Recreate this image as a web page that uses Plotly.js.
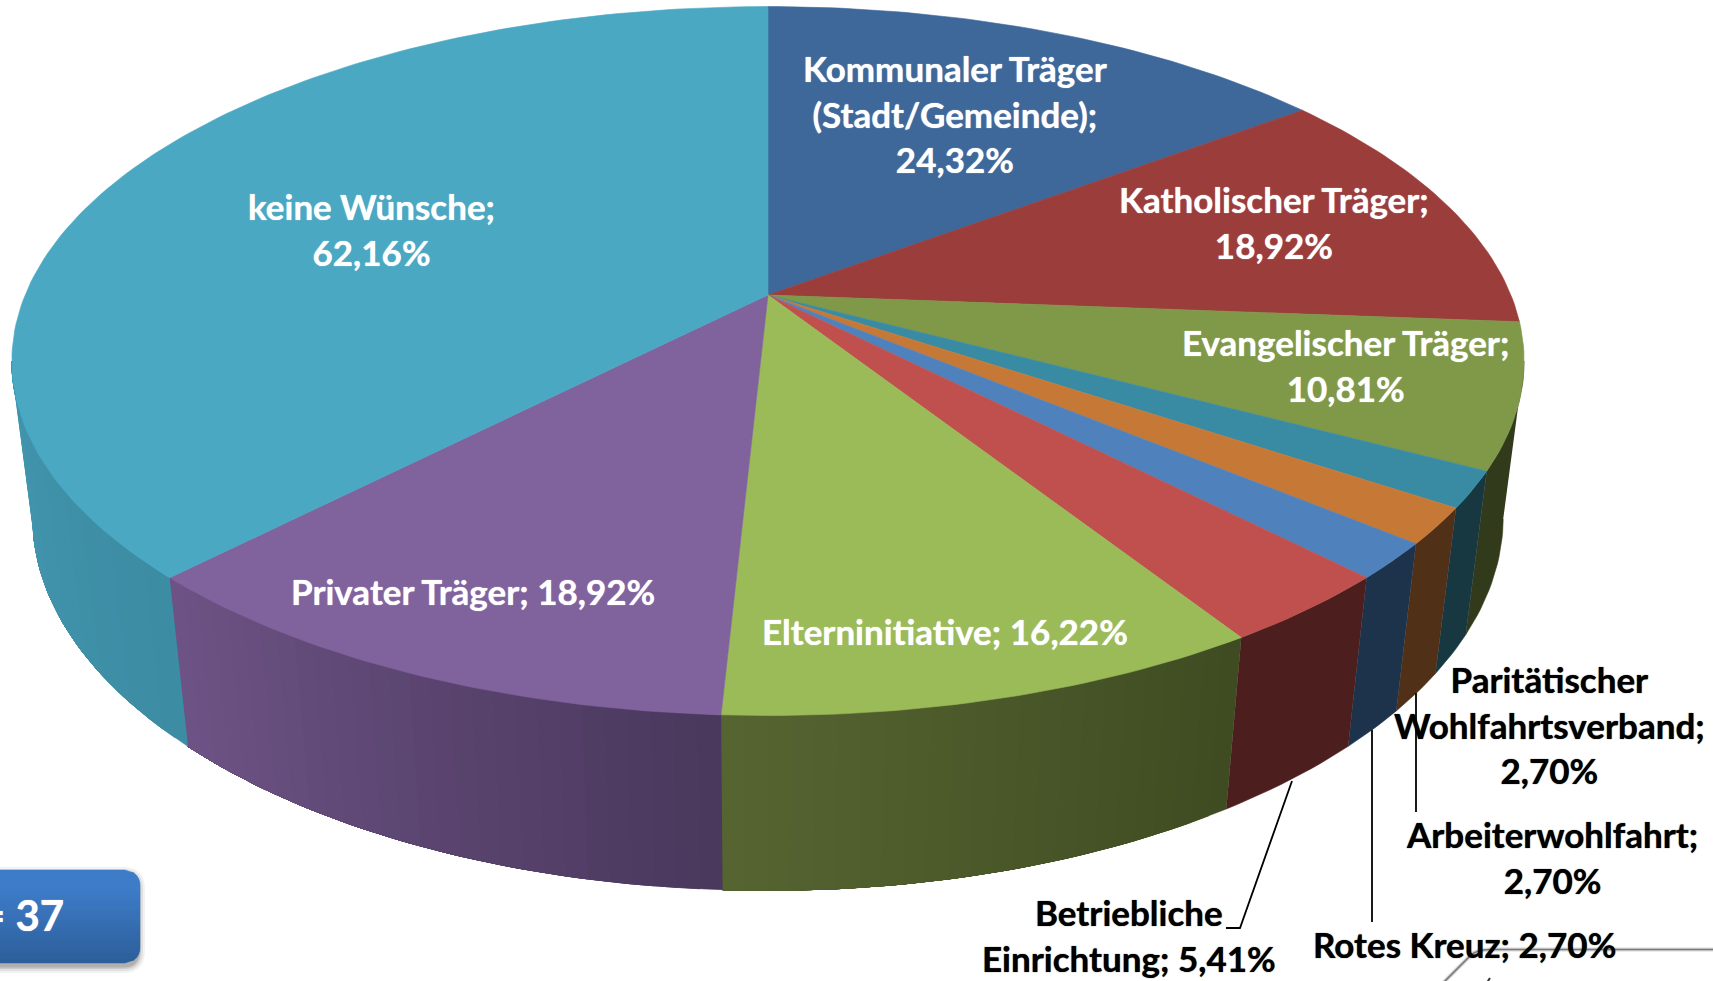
<!DOCTYPE html>
<html><head><meta charset="utf-8">
<script src="https://cdn.plot.ly/plotly-3.0.1.min.js"></script>
<style>html,body{margin:0;padding:0;background:#fff;overflow:hidden}#c{width:1713px;height:981px}</style>
</head><body><div id="c"></div>
<script>
// Data (in clockwise slice order; multiple answers, so shares add up to more than 100 %)
const categories = ["Kommunaler Träger","Katholischer Träger","Evangelischer Träger","Paritätischer Wohlfahrtsverband","Arbeiterwohlfahrt","Rotes Kreuz","Betriebliche Einrichtung","Elterninitiative","Privater Träger","keine Wünsche"];
const values = [24.32,18.92,10.81,2.70,2.70,2.70,5.41,16.22,18.92,62.16];
const topColors = ["#3E689A","#9A3D3B","#7F9948","#388BA3","#C67936","#4F81BD","#C0504D","#9BBB59","#80629D","#4AA8C2"];
const wallFrom = [[40,70,100],[100,40,38],[50,58,28],[24,56,65],[80,48,22],[29,50,75],[76,30,30],[62,75,33],[73,55,92],[60,140,163]];
const wallTo   = [[40,70,100],[100,40,38],[50,58,28],[24,56,65],[80,48,22],[29,50,75],[76,30,30],[86,101,50],[110,84,134],[66,150,174]];
const labelText = ["Kommunaler Träger<br>(Stadt/Gemeinde);<br>24,32%","Katholischer Träger;<br>18,92%","Evangelischer Träger;<br>10,81%","Paritätischer<br>Wohlfahrtsverband;<br>2,70%","Arbeiterwohlfahrt;<br>2,70%","Rotes Kreuz; 2,70%","Betriebliche<br>Einrichtung; 5,41%","Elterninitiative; 16,22%","Privater Träger; 18,92%","keine Wünsche;<br>62,16%"];
const labelX = [955,1274,1345,1549,1552,1464,1129,945,473,371];
const labelY = [113,222,365,724,857,944,935,631,591,229];
const labelColor = ["#fff","#fff","#fff","#000","#000","#000","#000","#fff","#fff","#fff"];

// Perspective projection of the pie disc (screen px)
const S = 1713/1568, CX = 703*S, CY = 270*S, A = 680*S, B = 313.2*S, K = 0.1864, M = 0.0275, C = 145.2*S;
function rim(deg, z){
  const t = deg*Math.PI/180, w = 1 + M*z + K*Math.cos(t);
  return [CX + A*Math.sin(t)/w, CY + (C*z - B*Math.cos(t))/w];
}
const total = values.reduce((a,b)=>a+b,0);
const edges = [0];
values.forEach(v=>edges.push(edges[edges.length-1]+v/total*360));
const visA = Math.acos(-K)*180/Math.PI, visB = 360-visA;
const traces = [];
function poly(pts,color,lw){
  traces.push({type:"scatter",mode:"lines",x:pts.map(p=>p[0]),y:pts.map(p=>p[1]),fill:"toself",fillcolor:color,
    line:{color:color,width:lw},hoverinfo:"skip",showlegend:false});
}
// side walls: each band runs to the slice's far end and is overpainted by the next band
values.forEach((v,i)=>{
  const a=Math.max(edges[i],visA), b=Math.min(edges[i+1],visB);
  if(b<=a) return;
  const flat=wallFrom[i].join()===wallTo[i].join();
  const n=flat?1:Math.ceil((b-a)/1.5);
  for(let j=0;j<n;j++){
    const t0=a+(b-a)*j/n, f=(j+.5)/n;
    const c=wallFrom[i].map((q,m)=>Math.round(q+(wallTo[i][m]-q)*f));
    const m=Math.max(1,Math.ceil(b-t0)), pts=[];
    for(let s=0;s<=m;s++) pts.push(rim(t0+(b-t0)*s/m,0));
    for(let s=m;s>=0;s--) pts.push(rim(t0+(b-t0)*s/m,1));
    poly(pts,`rgb(${c.join(",")})`,0.6);
  }
});
// top faces
values.forEach((v,i)=>{
  const pts=[[CX,CY]];
  const n=Math.ceil(edges[i+1]-edges[i]);
  for(let s=0;s<=n;s++) pts.push(rim(edges[i]+(edges[i+1]-edges[i])*s/n,0));
  pts.push([CX,CY]);
  poly(pts,topColors[i],0.6);
});
// badge
const shapes=[];
const bR=15,bT=870,bB=963,bX=140;
[[7,.05],[5,.07],[3,.1],[1.5,.12]].forEach(([d,o])=>{
  const r=bR+d,x=bX+d-2,t=bT+4-d,b=bB+3+d;
  shapes.push({type:"path",path:`M-5 ${t} L${x-r} ${t} Q${x} ${t} ${x} ${t+r} L${x} ${b-r} Q${x} ${b} ${x-r} ${b} L-5 ${b} Z`,fillcolor:`rgba(0,0,0,${o})`,line:{width:0},layer:"below"});
});
const xr=y=>{const dy=y<bT+bR?bT+bR-y:(y>bB-bR?y-(bB-bR):0);return bX-bR+Math.sqrt(Math.max(0,bR*bR-dy*dy));};
const nb=31;
for(let i=0;i<nb;i++){
  const y0=bT+(bB-bT)*i/nb,y1=bT+(bB-bT)*(i+1)/nb,f=i/(nb-1);
  const g=f<.2?[62,124,200]:[62-17*(f-.2)/.8,124-29*(f-.2)/.8,200-45*(f-.2)/.8];
  const col=`rgb(${g.map(Math.round).join(",")})`;
  shapes.push({type:"path",path:`M-5 ${y0} L${xr(y0)} ${y0} L${xr(y1)} ${y1} L-5 ${y1} Z`,fillcolor:col,line:{color:col,width:.5},layer:"below"});
}
// leader lines
const lead=(p)=>({type:"path",path:"M"+p.map(q=>q.join(" ")).join(" L"),line:{color:"#000",width:1.8},layer:"above"});
shapes.push(lead([[1292,781],[1240,928],[1226,928]]));
shapes.push(lead([[1372,730],[1372,922]]));
shapes.push(lead([[1416,693],[1416,812]]));
// grey frame fragment
shapes.push({type:"path",path:"M1442 984 L1471 955 Q1476 950 1490 949.5 L1715 949.5",line:{color:"rgba(175,175,175,.5)",width:4},layer:"below"});
shapes.push({type:"path",path:"M1442 984 L1471 955 Q1476 950 1490 949.5 L1715 949.5",line:{color:"rgba(110,110,110,.9)",width:1.6},layer:"below"});
shapes.push({type:"path",path:"M1486 984 L1490 978",line:{color:"#333",width:2},layer:"below"});

const FS=35;
const annotations=labelText.map((t,i)=>({x:labelX[i],y:labelY[i],xref:"x",yref:"y",text:t,showarrow:false,align:"center",xanchor:"center",yanchor:"middle",
  font:{family:"Lato, 'Open Sans', sans-serif",size:FS,color:labelColor[i],weight:700,
        shadow:labelColor[i]==="#fff"?"0 0 1px rgba(255,255,255,.9)":"0 0 1px rgba(0,0,0,.9)"}}));
annotations.push({x:66,y:915,xref:"x",yref:"y",text:"n = 37",showarrow:false,xanchor:"right",yanchor:"middle",font:{family:"Lato, 'Open Sans', sans-serif",size:42,color:"#fff",weight:700,shadow:"0 0 1px rgba(255,255,255,.9)"}});

Plotly.newPlot("c",traces,{
  width:1713,height:981,margin:{l:0,r:0,t:0,b:0},paper_bgcolor:"#fff",plot_bgcolor:"#fff",showlegend:false,
  xaxis:{range:[0,1713],visible:false,fixedrange:true},
  yaxis:{range:[981,0],visible:false,fixedrange:true},
  shapes,annotations
},{staticPlot:true,displayModeBar:false});
</script></body></html>
